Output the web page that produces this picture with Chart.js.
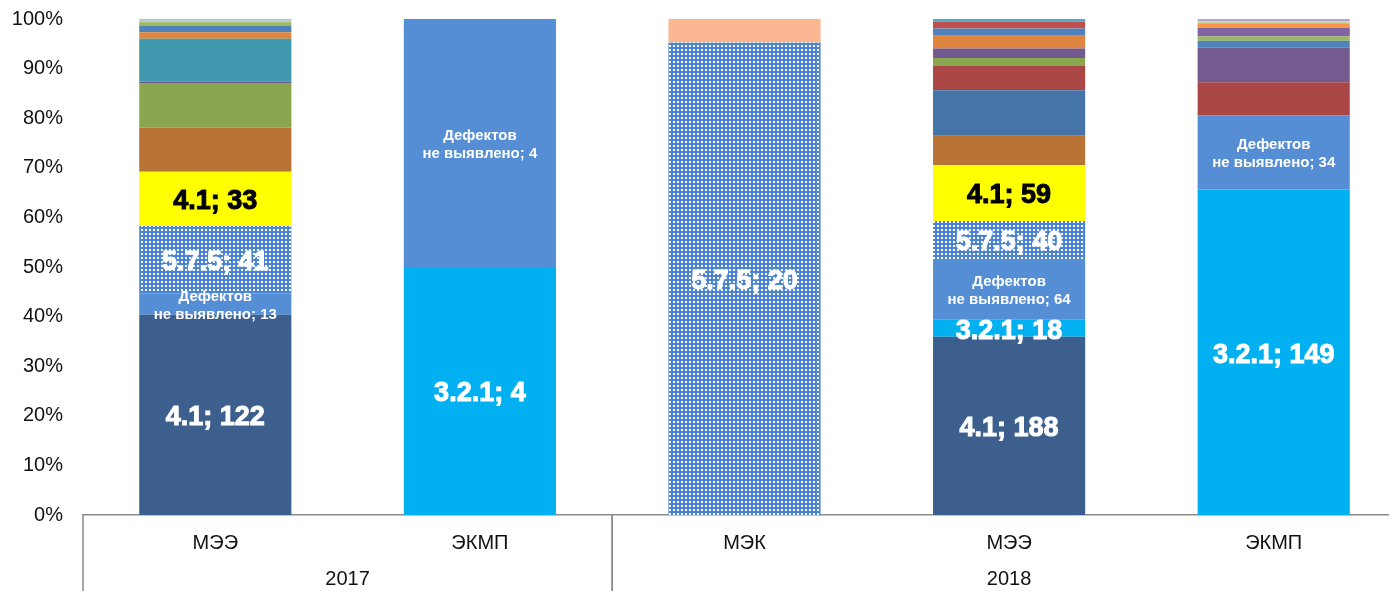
<!DOCTYPE html>
<html lang="ru">
<head>
<meta charset="utf-8">
<title>Структура дефектов</title>
<script src="https://cdn.jsdelivr.net/npm/chart.js@4/dist/chart.umd.min.js"></script>
<style>
  html, body { margin: 0; padding: 0; background: #ffffff; overflow: hidden; }
  #wrap { width: 1406px; height: 591px; }
</style>
</head>
<body>
<div id="wrap"><canvas id="chart" width="1406" height="591"></canvas></div>
<script>
// Columns and the year each one belongs to
const categories = ['МЭЭ', 'ЭКМП', 'МЭК', 'МЭЭ', 'ЭКМП'];
const years = ['2017', '2017', '2018', '2018', '2018'];

// Number of cases per defect code, stacked from the bottom up
const code41 = [122, 0, 0, 188, 0];
const code321 = [0, 4, 0, 18, 149];
const noDefects = [13, 4, 0, 64, 34];
const code575 = [41, 0, 20, 40, 0];
const code41b = [33, 0, 0, 59, 0];

// Remaining (unlabelled) codes of each column, stacked above the labelled ones
const otherMEE2017 = [27, 27, 1, 26, 4, 4, 2, 1, 1];
const otherEKMP2017 = [];
const otherMEK2018 = [1];
const otherMEE2018 = [31, 48, 26, 8, 10, 14, 7, 7, 3];
const otherEKMP2018 = [15, 16, 3, 2, 4, 2, 1, 1];

// Percent axis ticks
const yTickStep = 10;
const yMax = 100;

// ---- styles ----
const FONT = "'Liberation Sans', Arial, Helvetica, sans-serif";
const AXIS_TEXT = '#111111';
const AXIS_LINE = '#8a8a8a';

const otherColors = [
  ['#B97334', '#8AA64F', '#6B5B8E', '#4098AF', '#DF873E', '#4F81BD', '#9BBB59', '#E6B9B8', '#93CDDD'],
  [],
  ['#FAB792'],
  ['#B97334', '#4474A8', '#AA4644', '#8AA64F', '#725A91', '#DF853F', '#4F81BD', '#C0504D', '#4BACC6'],
  ['#AA4644', '#735A8F', '#4F81BD', '#9BBB59', '#8064A2', '#F79646', '#C3D69B', '#B3A2C7']
];

// dotted fill for code 5.7.5
function dottedPattern() {
  const c = document.createElement('canvas');
  c.width = 4; c.height = 4;
  const g = c.getContext('2d');
  g.fillStyle = '#4A84D2';
  g.fillRect(0, 0, 4, 4);
  g.fillStyle = '#ffffff';
  g.fillRect(1, 1, 2, 2);
  return g.createPattern(c, 'repeat');
}

const others = [otherMEE2017, otherEKMP2017, otherMEK2018, otherMEE2018, otherEKMP2018];
const mainSeries = [
  { label: '4.1', counts: code41, color: '#3C5F8E', text: '#ffffff' },
  { label: '3.2.1', counts: code321, color: '#00B0F0', text: '#ffffff' },
  { label: 'Дефектов не выявлено', counts: noDefects, color: '#558ED5', text: '#ffffff', small: true },
  { label: '5.7.5', counts: code575, color: dottedPattern(), text: '#ffffff' },
  { label: '4.1', counts: code41b, color: '#FFFF00', text: '#000000' }
];

// column totals -> 100% stacking
const totals = categories.map((_, i) =>
  mainSeries.reduce((s, d) => s + d.counts[i], 0) + others[i].reduce((s, v) => s + v, 0));
const pct = (v, i) => v / totals[i] * 100;

const datasets = mainSeries.map(s => ({
  label: s.label,
  counts: s.counts,
  data: s.counts.map(pct),
  backgroundColor: s.color,
  labelStyle: { color: s.text, small: !!s.small }
}));

const otherLayers = Math.max(...others.map(o => o.length));
for (let k = 0; k < otherLayers; k++) {
  const counts = others.map(o => o[k] || 0);
  datasets.push({
    label: 'Прочие ' + (k + 1),
    counts: counts,
    data: counts.map(pct),
    backgroundColor: otherColors.map(c => c[k] || '#cccccc')
  });
}

// text inside the segments: "code; count"
const segmentLabels = {
  id: 'segmentLabels',
  afterDatasetsDraw(chart) {
    const ctx = chart.ctx;
    ctx.save();
    ctx.textAlign = 'center';
    ctx.textBaseline = 'middle';
    chart.data.datasets.forEach((ds, di) => {
      if (!ds.labelStyle) return;
      const meta = chart.getDatasetMeta(di);
      meta.data.forEach((bar, i) => {
        const n = ds.counts[i];
        if (!n) return;
        const cx = bar.x;
        const cy = (bar.y + bar.base) / 2;
        ctx.fillStyle = ds.labelStyle.color;
        ctx.strokeStyle = ds.labelStyle.color;
        const text = ds.label + '; ' + n;
        if (ds.labelStyle.small) {
          ctx.font = 'bold 15px ' + FONT;
          const cut = text.indexOf(' ');
          ctx.fillText(text.slice(0, cut), cx, cy - 7.5);
          ctx.fillText(text.slice(cut + 1), cx, cy + 10.5);
        } else {
          ctx.font = 'bold 27px ' + FONT;
          ctx.lineWidth = 1;
          ctx.strokeText(text, cx, cy + 3);
          ctx.fillText(text, cx, cy + 3);
        }
      });
    });
    ctx.restore();
  }
};

// year row under the category labels, with separators between the years
const yearAxis = {
  id: 'yearAxis',
  afterDraw(chart) {
    const xs = chart.scales.x;
    const ctx = chart.ctx;
    const half = (xs.getPixelForValue(1) - xs.getPixelForValue(0)) / 2;
    ctx.save();
    ctx.strokeStyle = AXIS_LINE;
    ctx.lineWidth = 1.5;
    ctx.fillStyle = AXIS_TEXT;
    ctx.font = '20px ' + FONT;
    ctx.textAlign = 'center';
    ctx.textBaseline = 'middle';
    let start = 0;
    for (let i = 0; i < years.length; i++) {
      if (i === years.length - 1 || years[i + 1] !== years[i]) {
        const x0 = xs.getPixelForValue(start) - half;
        const x1 = xs.getPixelForValue(i) + half;
        [x0, x1].forEach(x => {
          ctx.beginPath();
          ctx.moveTo(x, xs.top);
          ctx.lineTo(x, chart.height);
          ctx.stroke();
        });
        ctx.fillText(years[i], (x0 + x1) / 2, xs.top + 64);
        start = i + 1;
      }
    }
    ctx.restore();
  }
};

new Chart(document.getElementById('chart'), {
  type: 'bar',
  data: { labels: categories, datasets: datasets },
  options: {
    responsive: false,
    animation: false,
    devicePixelRatio: 1,
    layout: { autoPadding: false, padding: { top: 19, left: 0, right: 0, bottom: 0 } },
    datasets: {
      bar: { categoryPercentage: 1, barPercentage: 0.575, borderWidth: 0 }
    },
    plugins: {
      legend: { display: false },
      tooltip: { enabled: false }
    },
    scales: {
      x: {
        stacked: true,
        grid: { display: false, drawTicks: false },
        border: { display: true, color: AXIS_LINE, width: 1.5 },
        ticks: {
          color: AXIS_TEXT,
          padding: 16,
          maxRotation: 0,
          font: { family: FONT, size: 20 }
        },
        afterFit(scale) { scale.height = 76; }
      },
      y: {
        stacked: true,
        min: 0,
        max: yMax,
        grid: { display: false, drawTicks: false },
        border: { display: false },
        ticks: {
          stepSize: yTickStep,
          color: AXIS_TEXT,
          padding: 20,
          font: { family: FONT, size: 20 },
          callback: v => v + '%'
        },
        afterFit(scale) {
          scale.width = 83;
          scale.paddingTop = 0;
          scale.paddingBottom = 0;
        }
      }
    }
  },
  plugins: [segmentLabels, yearAxis]
});
</script>
</body>
</html>
